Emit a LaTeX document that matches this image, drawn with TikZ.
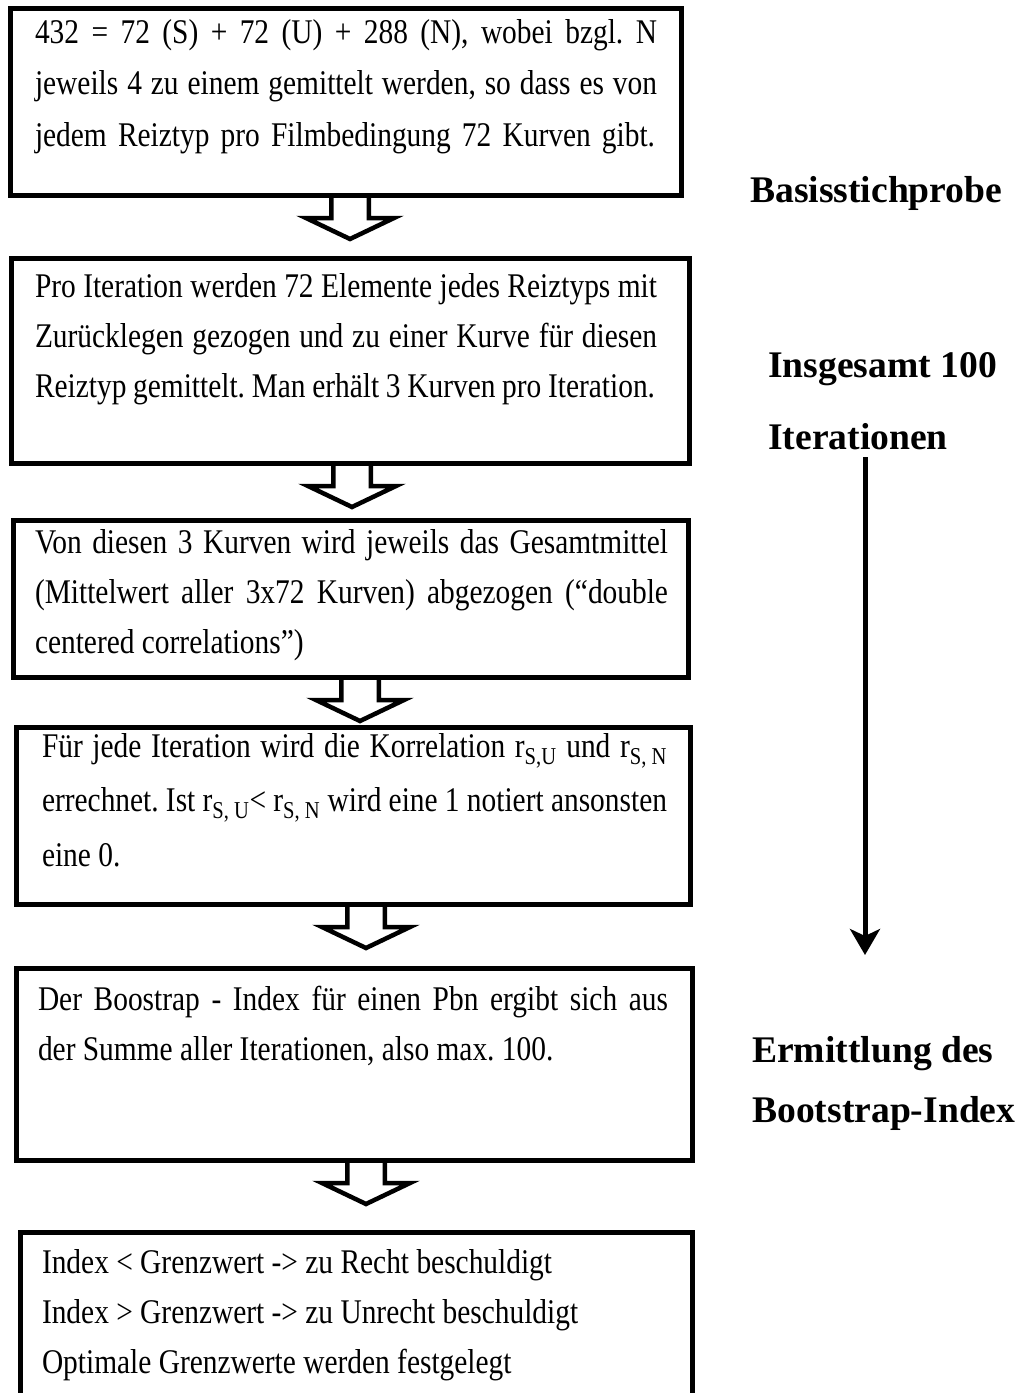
\documentclass[tikz,border=0pt]{standalone}
\usepackage{fontspec}
\setmainfont{Liberation Serif}[FakeStretch=0.85]
\newfontfamily\labelfont{Liberation Serif}
\usetikzlibrary{arrows.meta}
\setlength\parindent{0pt}
\frenchspacing
\newcommand\topstrut{\rule{0pt}{30pt}}
\newcommand\blockarrowfrom[2]{% #1 node above, #2 x of arrow centre
  \draw[blockarr] (#2-18.75,0 |- #1.south) -- ++(0,23) -- ++(-25.25,0) -- ++(44,21)
    -- ++(44,-21) -- ++(-25.25,0) -- ++(0,-23);}
\begin{document}
\begin{tikzpicture}[x=1pt,y=-1pt,
  box/.style={draw, line width=5pt, anchor=north west, inner sep=0pt, outer sep=0pt},
  body/.style={anchor=north west, inner sep=0pt, outer sep=0pt, align=left},
  blockarr/.style={draw, line width=4.5pt, line join=miter, miter limit=10},
  lbl/.style={anchor=base west, inner sep=0pt, font=\labelfont\fontsize{37.6}{45}\selectfont\bfseries},
]
\useasboundingbox (0,0) rectangle (1020,1393);

% boxes
\node[box, minimum width=671pt, minimum height=187pt] (b1) at (10,8) {};
\node[box, minimum width=678pt, minimum height=205pt] (b2) at (11,258) {};
\node[box, minimum width=675pt, minimum height=157pt] (b3) at (13,520) {};
\node[box, minimum width=674pt, minimum height=177pt] (b4) at (16,727) {};
\node[box, minimum width=676pt, minimum height=192pt] (b5) at (16,968) {};
\node[box, minimum width=672pt, minimum height=175pt] (b6) at (20,1232) {};

% texts
\node[body, font=\fontsize{34.6}{51.5}\selectfont] (t1) at (35,13) {%
\topstrut\makebox[622pt][s]{432 = 72 (S) + 72 (U) + 288 (N), wobei bzgl. N}\\
\makebox[622pt][s]{jeweils 4 zu einem gemittelt werden, so dass es von}\\
\makebox[620pt][s]{jedem Reiztyp pro Filmbedingung 72 Kurven gibt.}};

\node[body, font=\fontsize{34.6}{50}\selectfont] (t2) at (35,267) {%
\topstrut\makebox[622pt][s]{Pro Iteration werden 72 Elemente jedes Reiztyps mit}\\
\makebox[622pt][s]{Zurücklegen gezogen und zu einer Kurve für diesen}\\
\makebox[620pt][s]{Reiztyp gemittelt. Man erhält 3 Kurven pro Iteration.}};

\node[body, font=\fontsize{34.6}{50}\selectfont] (t3) at (35,523) {%
\topstrut\makebox[633pt][s]{Von diesen 3 Kurven wird jeweils das Gesamtmittel}\\
\makebox[633pt][s]{(Mittelwert aller 3x72 Kurven) abgezogen (“double}\\
centered correlations”)};

\node[body, font=\fontsize{34.6}{54.5}\selectfont] (t4) at (42,727) {%
\topstrut\makebox[625pt][s]{Für jede Iteration wird die Korrelation r\textsubscript{S,U} und r\textsubscript{S, N}}\\
\makebox[625pt][s]{errechnet. Ist r\textsubscript{S, U}< r\textsubscript{S, N} wird eine 1 notiert ansonsten}\\
eine 0.};

\node[body, font=\fontsize{34.6}{50}\selectfont] (t5) at (38,980) {%
\topstrut\makebox[630pt][s]{Der Boostrap - Index für einen Pbn ergibt sich aus}\\
der Summe aller Iterationen, also max. 100.};

\node[body, font=\fontsize{34.6}{50}\selectfont] (t6) at (42,1243) {%
\topstrut Index < Grenzwert -> zu Recht beschuldigt\\
Index > Grenzwert -> zu Unrecht beschuldigt\\
Optimale Grenzwerte werden festgelegt};

% hollow block arrows
\blockarrowfrom{b1}{350}
\blockarrowfrom{b2}{352}
\blockarrowfrom{b3}{360}
\blockarrowfrom{b4}{366}
\blockarrowfrom{b5}{366}

% right-hand labels
\node[lbl] (l1) at (750,202) {Basisstichprobe};
\node[lbl] (l2) at (768,377) {Insgesamt 100};
\node[lbl] (l3) at (768,449) {Iterationen};
\node[lbl] (l4) at (752,1062) {Ermittlung des};
\node[lbl] (l5) at (752,1122) {Bootstrap-Index};

\coordinate (va1) at (865,457);
\coordinate (va2) at (865,955);
\draw[line width=5pt, -{Stealth[length=26pt,width=30pt,inset=7pt]}] (va1) -- (va2);
\end{tikzpicture}
\end{document}
